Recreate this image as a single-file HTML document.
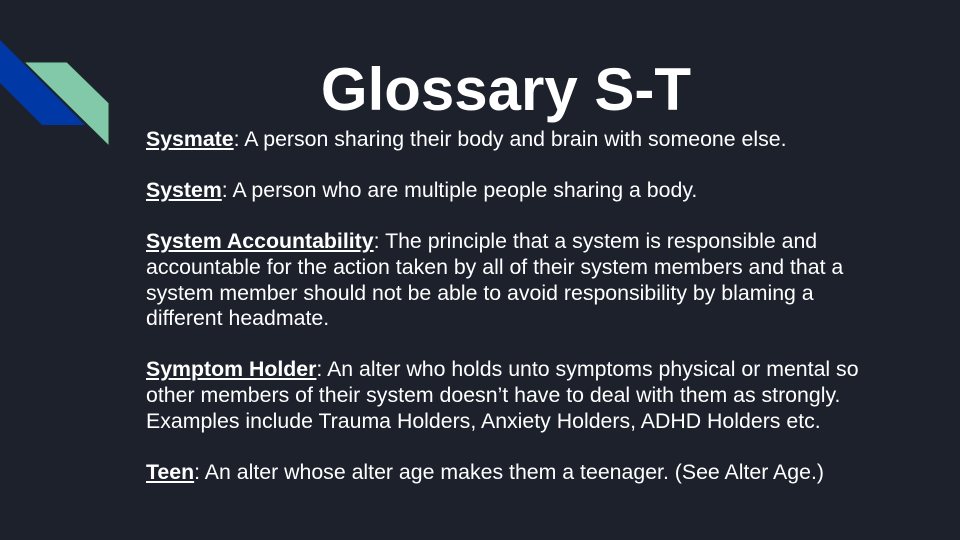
<!DOCTYPE html>
<html><head><meta charset="utf-8"><style>
html,body{margin:0;padding:0}
body{width:960px;height:540px;background:#1c212c;position:relative;overflow:hidden;font-family:"Liberation Sans",Arial,sans-serif;color:#fff}
#title{position:absolute;left:0;width:1012px;text-align:center;top:55px;font-size:60px;font-weight:bold;line-height:70px;margin:0}
#body{position:absolute;left:146px;top:127px;font-size:21.3px;line-height:25.6px;width:730px}
#body p{margin:0 0 25.6px 0}
b{text-decoration:underline}
</style></head><body>
<svg width="120" height="160" style="position:absolute;left:0;top:0">
<polygon points="0,40 85,125 42,125 0,83" fill="#0039a6"/>
<polygon points="24,62 67,62 109,103 109,146" fill="#81c9a8" stroke="#1c2a2a" stroke-width="1"/>
</svg>
<h1 id="title">Glossary S-T</h1>
<div id="body">
<p><b>Sysmate</b>: A person sharing their body and brain with someone else.</p>
<p><b>System</b>: A person who are multiple people sharing a body.</p>
<p><b>System Accountability</b>: The principle that a system is responsible and accountable for the action taken by all of their system members and that a system member should not be able to avoid responsibility by blaming a different headmate.</p>
<p><b>Symptom Holder</b>: An alter who holds unto symptoms physical or mental so other members of their system doesn’t have to deal with them as strongly. Examples include Trauma Holders, Anxiety Holders, ADHD Holders etc.</p>
<p><b>Teen</b>: An alter whose alter age makes them a teenager. (See Alter Age.)</p>
</div>
</body></html>
